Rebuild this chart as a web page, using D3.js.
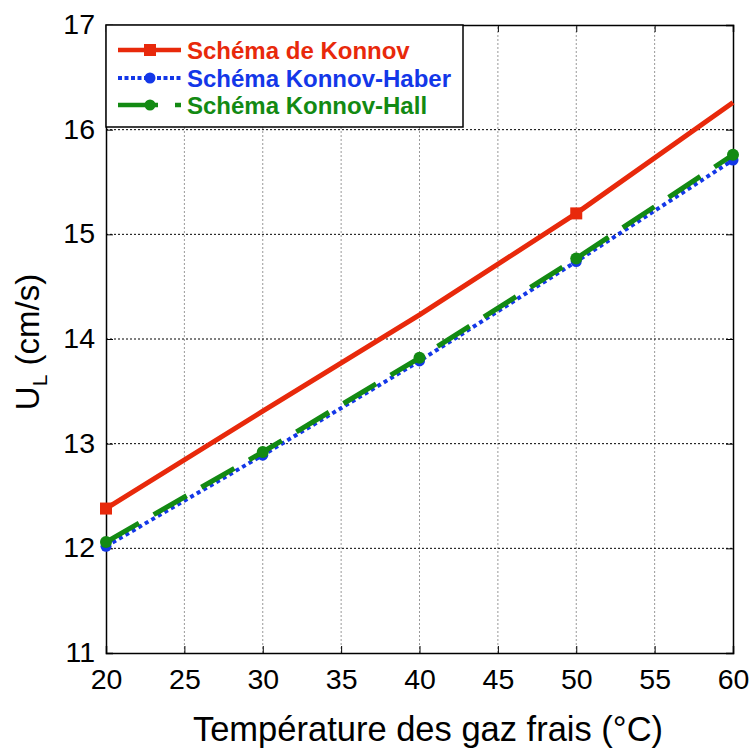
<!DOCTYPE html>
<html><head><meta charset="utf-8">
<script src="https://cdn.jsdelivr.net/npm/d3@7"></script>
<style>body{margin:0;background:#fff}svg{display:block}</style>
</head><body>
<script>
const temps = [20, 30, 40, 50, 60];
const konnov = [12.38, 13.31, 14.23, 15.20, 16.26];
const konnovHaber = [12.02, 12.89, 13.79, 14.74, 15.71];
const konnovHall = [12.06, 12.92, 13.82, 14.77, 15.76];
const konnovMarkers = [20, 50];
const xTicks = [20, 25, 30, 35, 40, 45, 50, 55, 60];
const yTicks = [11, 12, 13, 14, 15, 16, 17];
const seriesNames = ["Schéma de Konnov", "Schéma Konnov-Haber", "Schéma Konnov-Hall"];
const colors = ["#e8290b", "#1337e8", "#138a13"];

const W = 752, H = 756;
const m = {l: 106, r: 752 - 733, t: 25, b: 756 - 653};
const svg = d3.select("body").append("svg").attr("width", W).attr("height", H);
const x = d3.scaleLinear().domain([20, 60]).range([m.l, W - m.r]);
const y = d3.scaleLinear().domain([11, 17]).range([H - m.b, m.t]);
const font = "Liberation Sans, Arial, sans-serif";

// grid
svg.append("g").selectAll("line").data(xTicks.slice(1, -1)).join("line")
  .attr("x1", d => x(d)).attr("x2", d => x(d)).attr("y1", y(11)).attr("y2", y(17))
  .attr("stroke", "#999").attr("stroke-width", 1).attr("stroke-dasharray", "2,2");
svg.append("g").selectAll("line").data(yTicks.slice(1, -1)).join("line")
  .attr("x1", x(20)).attr("x2", x(60)).attr("y1", d => y(d)).attr("y2", d => y(d))
  .attr("stroke", "#000").attr("stroke-width", 1).attr("stroke-dasharray", "2,2");

// axes
const ax = svg.append("g").attr("transform", `translate(0,${y(11)})`)
  .call(d3.axisBottom(x).tickValues(xTicks).tickSize(-7).tickPadding(16).tickFormat(d3.format("d")));
const ay = svg.append("g").attr("transform", `translate(${x(20)},0)`)
  .call(d3.axisLeft(y).tickValues(yTicks).tickSize(-7).tickPadding(11).tickFormat(d3.format("d")));
const ar = svg.append("g").attr("transform", `translate(${x(60)},0)`)
  .call(d3.axisRight(y).tickValues(yTicks).tickSize(-7).tickFormat(""));
const at = svg.append("g").attr("transform", `translate(0,${y(17)})`)
  .call(d3.axisTop(x).tickValues(xTicks).tickSize(-7).tickFormat(""));
[ax, ay, ar, at].forEach(g => {
  g.selectAll(".domain").attr("stroke", "#000").attr("stroke-width", 1.5);
  g.selectAll(".tick line").attr("stroke", "#000");
  g.selectAll("text").attr("font-family", font).attr("font-size", 28.5).attr("fill", "#000");
});
ay.selectAll("text").attr("dy", "0.3em");

// lines
const line = d3.line().x(d => x(d[0])).y(d => y(d[1]));
const dataK = temps.map((t, i) => [t, konnov[i]]);
const dataHab = temps.map((t, i) => [t, konnovHaber[i]]);
const dataHall = temps.map((t, i) => [t, konnovHall[i]]);

svg.append("path").datum(dataHab).attr("d", line).attr("fill", "none")
  .attr("stroke", colors[1]).attr("stroke-width", 4).attr("stroke-dasharray", "4,3.5");
svg.append("g").selectAll("circle").data(dataHab).join("circle")
  .attr("cx", d => x(d[0])).attr("cy", d => y(d[1])).attr("r", 5.5).attr("fill", colors[1]);

svg.append("path").datum(dataHall).attr("d", line).attr("fill", "none")
  .attr("stroke", colors[2]).attr("stroke-width", 5).attr("stroke-dasharray", "38,17");
svg.append("g").selectAll("circle").data(dataHall).join("circle")
  .attr("cx", d => x(d[0])).attr("cy", d => y(d[1])).attr("r", 6).attr("fill", colors[2]);

svg.append("path").datum(dataK).attr("d", line).attr("fill", "none")
  .attr("stroke", colors[0]).attr("stroke-width", 5);
svg.append("g").selectAll("rect").data(dataK.filter(d => konnovMarkers.includes(d[0]))).join("rect")
  .attr("x", d => x(d[0]) - 6).attr("y", d => y(d[1]) - 6).attr("width", 12).attr("height", 12)
  .attr("fill", colors[0]);

// legend
const lg = svg.append("g");
lg.append("rect").attr("x", 106).attr("y", 25).attr("width", 357).attr("height", 102)
  .attr("fill", "#fff").attr("stroke", "#000").attr("stroke-width", 1.5);
const rowsY = [50, 78, 105];
seriesNames.forEach((name, i) => {
  const yy = rowsY[i];
  const s = lg.append("line").attr("x1", 118).attr("x2", 181).attr("y1", yy).attr("y2", yy)
    .attr("stroke", colors[i]);
  if (i === 0) s.attr("stroke-width", 4.5);
  if (i === 1) s.attr("stroke-width", 4).attr("stroke-dasharray", "4,2.5");
  if (i === 2) s.attr("stroke-width", 4.5).attr("stroke-dasharray", "40,17");
  if (i === 0) lg.append("rect").attr("x", 144).attr("y", yy - 6).attr("width", 12).attr("height", 12).attr("fill", colors[i]);
  else lg.append("circle").attr("cx", 150).attr("cy", yy).attr("r", 5.5).attr("fill", colors[i]);
  lg.append("text").attr("x", 187).attr("y", yy).attr("dy", "0.36em")
    .attr("font-family", font).attr("font-weight", "bold").attr("font-size", 24)
    .attr("fill", colors[i]).text(name);
});

// axis titles
svg.append("text").attr("x", 428).attr("y", 741).attr("text-anchor", "middle")
  .attr("font-family", font).attr("font-size", 34.5).text("Température des gaz frais (°C)");
const yt = svg.append("text").attr("transform", `translate(39,342) rotate(-90)`).attr("text-anchor", "middle")
  .attr("font-family", font).attr("font-size", 33);
yt.append("tspan").text("U");
yt.append("tspan").attr("font-size", 21).attr("dy", 8).text("L");
yt.append("tspan").attr("dy", -8).text(" (cm/s)");
</script>
</body></html>
